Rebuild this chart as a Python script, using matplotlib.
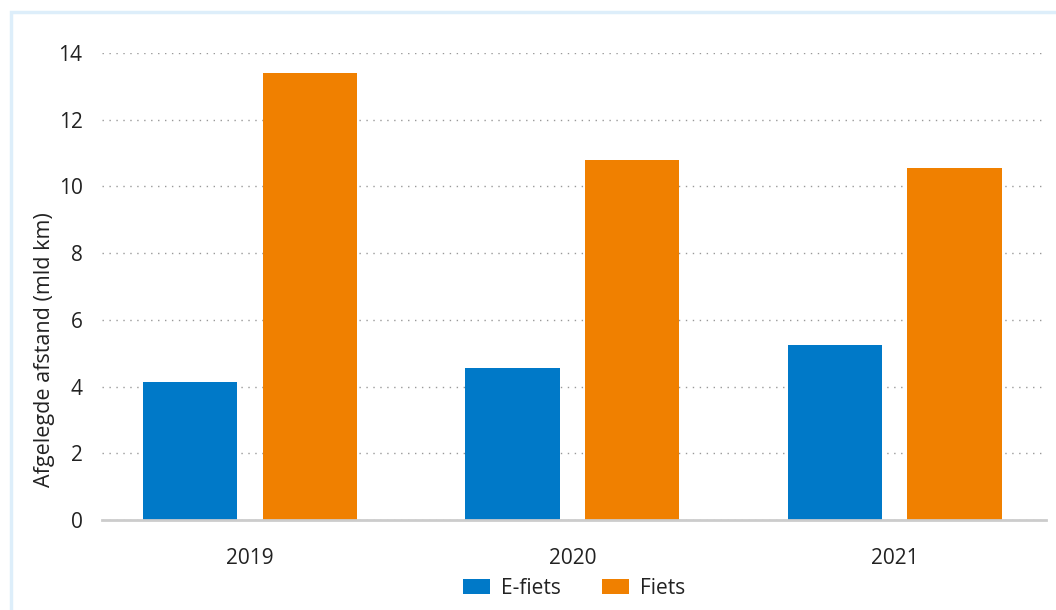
import numpy as np
import matplotlib.pyplot as plt
from matplotlib.patches import Rectangle

years = ['2019', '2020', '2021']
e_fiets = [4.15, 4.55, 5.25]
fiets = [13.4, 10.8, 10.55]
series_names = ['E-fiets', 'Fiets']

plt.rcParams['font.family'] = ['Open Sans', 'DejaVu Sans']

fig = plt.figure(figsize=(10.56, 6.10), dpi=100)
# light blue frame around the chart
fig.patches.append(Rectangle((11 / 1056, -0.05), 1.1, (610 - 12) / 610 + 0.05,
                             transform=fig.transFigure, fill=False,
                             edgecolor='#ddeefa', linewidth=2.5, zorder=0))

ax = fig.add_axes([102 / 1056, 90 / 610, (1046 - 102) / 1056, (520 - 53) / 610])

x = np.arange(len(years))
w = 0.292
ax.bar(x - 0.186, e_fiets, w, color='#0079c8', label=series_names[0], zorder=3)
ax.bar(x + 0.186, fiets, w, color='#f08000', label=series_names[1], zorder=3)

ax.set_xlim(-0.46, 2.47)
ax.set_ylim(0, 14)
ax.set_yticks(range(0, 15, 2))
ax.set_xticks(x)
ax.set_xticklabels(years)
ax.yaxis.grid(True, linestyle=(0, (1, 4)), color='#999999', linewidth=1)
ax.set_axisbelow(True)

for s in ['top', 'right', 'left']:
    ax.spines[s].set_visible(False)
ax.spines['bottom'].set_color('#cccccc')
ax.spines['bottom'].set_linewidth(2)
ax.spines['bottom'].set_zorder(4)

ax.tick_params(axis='both', length=0, labelsize=15, colors='#222222')
ax.tick_params(axis='y', pad=14)
ax.tick_params(axis='x', pad=20)
ax.set_ylabel('Afgelegde afstand (mld km)', fontsize=15.5, color='#222222', va='center')
ax.yaxis.set_label_coords(-0.0604, 0.364)

ax.legend(loc='upper center', bbox_to_anchor=(0.5, -0.083), ncol=2, frameon=False,
          fontsize=15, handlelength=1.3, handleheight=0.75, columnspacing=2.0,
          handletextpad=0.5, labelcolor='#222222')

fig.savefig('out.png', dpi=100)
